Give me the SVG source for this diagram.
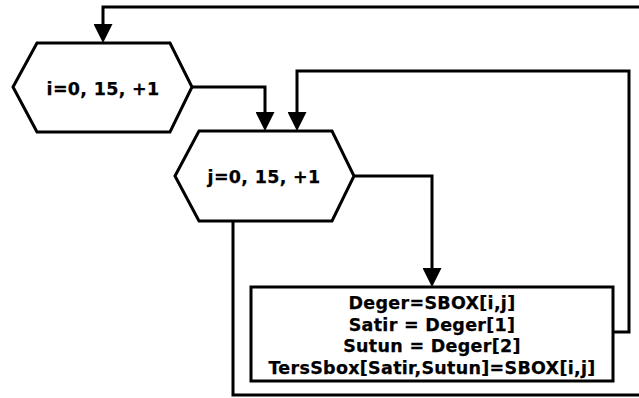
<svg xmlns="http://www.w3.org/2000/svg" width="639" height="398" viewBox="0 0 639 398">
<defs>
<marker id="ah" markerUnits="userSpaceOnUse" markerWidth="19" markerHeight="19" refX="11" refY="9.5" orient="auto">
<path d="M0,0 L19,9.5 L0,19 z" fill="#000"/>
</marker>
<style>
.shape{fill:#fff;stroke:#000;stroke-width:3;stroke-linejoin:miter}
.line{fill:none;stroke:#000;stroke-width:3;marker-end:url(#ah)}
text{font-family:"DejaVu Sans","Verdana",sans-serif;font-weight:bold;font-size:17.5px;letter-spacing:0.3px;text-anchor:middle;fill:#000;stroke:#000;stroke-width:0.25}
</style>
</defs>
<rect width="639" height="398" fill="#fff"/>
<g id="connectors">
<path class="line" d="M233,221 V395 H645 V7 H103 V35"/>
<path class="line" d="M192,87 H265 V123"/>
<path class="line" d="M613,332 H629 V71 H297 V123"/>
<path class="line" d="M354,176 H432 V279"/>
</g>
<g id="loop-i">
<polygon class="shape" points="13,87 37,43 170,43 192,87 170,132 37,132"/>
<text x="103" y="95">i=0, 15, +1</text>
</g>
<g id="loop-j">
<polygon class="shape" points="175,176 199,131 332,131 354,176 332,221 199,221"/>
<text x="264" y="183">j=0, 15, +1</text>
</g>
<g id="process">
<rect class="shape" x="251" y="287" width="362" height="94"/>
<text x="432" y="309">Deger=SBOX[i,j]</text>
<text x="432" y="330.5">Satir = Deger[1]</text>
<text x="432" y="352">Sutun = Deger[2]</text>
<text x="432" y="374">TersSbox[Satir,Sutun]=SBOX[i,j]</text>
</g>
</svg>
